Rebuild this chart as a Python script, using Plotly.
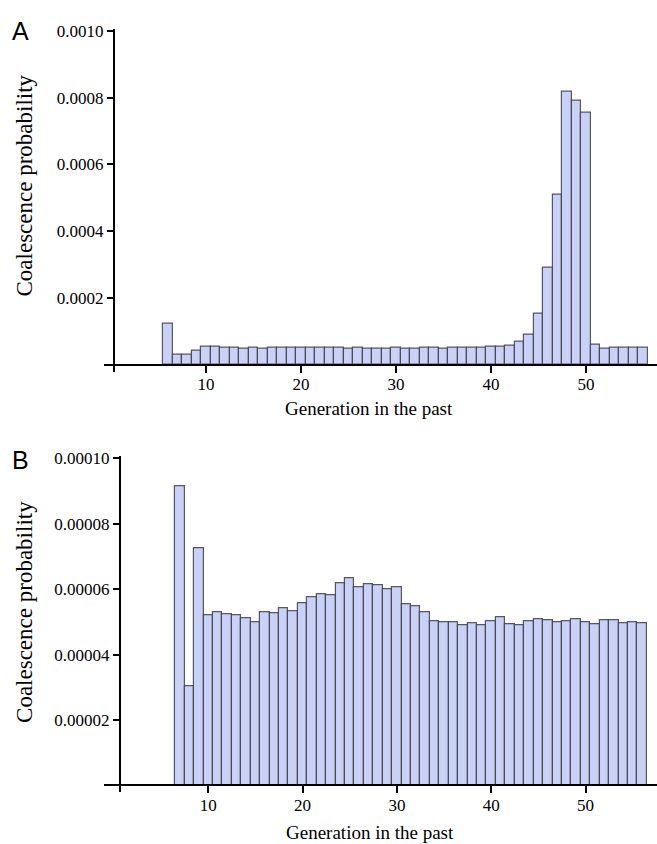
import plotly.graph_objects as go

W, H = 657, 844

# Panel A data
gen_a = list(range(6, 57))
prob_a = [
    0.000122, 0.000031, 0.000031, 0.000041, 0.0000557, 0.0000557, 0.0000527, 0.0000517,
    0.0000488, 0.0000527, 0.0000498, 0.0000507, 0.0000507, 0.0000517, 0.0000517, 0.0000507,
    0.0000507, 0.0000507, 0.0000507, 0.0000488, 0.0000507, 0.0000478, 0.0000498, 0.0000488,
    0.0000517, 0.0000488, 0.0000498, 0.0000507, 0.0000517, 0.0000498, 0.0000527, 0.0000517,
    0.0000527, 0.0000527, 0.0000537, 0.0000557, 0.0000587, 0.0000680, 0.0000895, 0.000152,
    0.000290, 0.000510, 0.000818, 0.000791, 0.000756, 0.0000607, 0.0000498, 0.0000527,
    0.0000527, 0.0000507, 0.0000507,
]

# Panel B data
gen_b = list(range(7, 57))
prob_b = [
    0.0000914, 0.0000304, 0.0000724, 0.0000519, 0.0000530, 0.0000524, 0.0000519, 0.0000511,
    0.0000498, 0.0000529, 0.0000525, 0.0000542, 0.0000533, 0.0000558, 0.0000575, 0.0000585,
    0.0000581, 0.0000617, 0.0000632, 0.0000605, 0.0000615, 0.0000611, 0.0000600, 0.0000606,
    0.0000555, 0.0000548, 0.0000528, 0.0000502, 0.0000498, 0.0000499, 0.0000491, 0.0000496,
    0.0000490, 0.0000503, 0.0000514, 0.0000494, 0.0000489, 0.0000502, 0.0000508, 0.0000505,
    0.0000498, 0.0000501, 0.0000508, 0.0000499, 0.0000493, 0.0000504, 0.0000505, 0.0000496,
    0.0000499, 0.0000495,
]

ticks_a = [0.0002, 0.0004, 0.0006, 0.0008, 0.0010]
ticks_b = [0.00002, 0.00004, 0.00006, 0.00008, 0.00010]
x_ticks = [10, 20, 30, 40, 50]

x_title = "Generation in the past"
y_title = "Coalescence probability"

FILL = "#c9d2f6"
EDGE = "rgba(60,60,70,0.85)"
SERIF = "Liberation Serif"

fig = go.Figure()
fig.add_trace(go.Bar(x=gen_a, y=prob_a, width=1, xaxis="x", yaxis="y",
                     marker=dict(color=FILL, line=dict(color=EDGE, width=1.2)),
                     showlegend=False))
fig.add_trace(go.Bar(x=gen_b, y=prob_b, width=1, xaxis="x2", yaxis="y2",
                     marker=dict(color=FILL, line=dict(color=EDGE, width=1.2)),
                     showlegend=False))

def px(v):
    return v / W

def py(v):
    return (H - v) / H

axis_common = dict(showgrid=False, zeroline=False, showline=True, linecolor="black",
                   linewidth=2, ticks="outside", tickcolor="black", tickwidth=2,
                   tickfont=dict(family=SERIF, size=17, color="black"))

# Panel A geometry (pixels)
a_x0, a_xz, a_sx = 104, 111, 9.5
a_yb, a_yz, a_sy = 368, 361, 337 / 0.001
# Panel B geometry
b_x0, b_xz, b_sx = 104, 114, 9.43
b_yb, b_yz, b_sy = 792, 785, 330 / 0.0001

fig.update_layout(
    width=W, height=H, margin=dict(l=0, r=0, t=0, b=0),
    paper_bgcolor="white", plot_bgcolor="white", bargap=0,
    xaxis=dict(axis_common, domain=[px(a_x0), 1], anchor="free", position=py(a_yz),
               range=[(a_x0 - a_xz) / a_sx, (W - a_xz) / a_sx],
               tickvals=x_ticks, ticklen=7, ticklabelstandoff=-3),
    yaxis=dict(axis_common, domain=[py(a_yb), py(22)], anchor="free", position=px(114),
               range=[-(a_yb - a_yz) / a_sy, (a_yz - 22) / a_sy],
               tickvals=ticks_a, tickformat=".4f", ticklen=6),
    xaxis2=dict(axis_common, domain=[px(b_x0), 1], anchor="free", position=py(b_yz),
                range=[(b_x0 - b_xz) / b_sx, (W - b_xz) / b_sx],
                tickvals=x_ticks, ticklen=7, ticklabelstandoff=-3),
    yaxis2=dict(axis_common, domain=[py(b_yb), py(453)], anchor="free", position=px(120),
                range=[-(b_yb - b_yz) / b_sy, (b_yz - 453) / b_sy],
                tickvals=ticks_b, tickformat=".5f", ticklen=6),
)

def note(text, x, y, size, family, angle=0):
    fig.add_annotation(text=text, x=px(x), y=py(y), xref="paper", yref="paper",
                       showarrow=False, xanchor="center", yanchor="middle",
                       textangle=angle, font=dict(family=family, size=size, color="black"))

note("A", 20, 24, 25, "Liberation Sans")
note("B", 20, 457, 25, "Liberation Sans")
note(y_title, 25, 180, 23, SERIF, -90)
note(y_title, 25, 610, 23, SERIF, -90)
note(x_title, 369, 405, 19, SERIF)
note(x_title, 370, 832, 19, SERIF)

fig.write_html("out.html")
